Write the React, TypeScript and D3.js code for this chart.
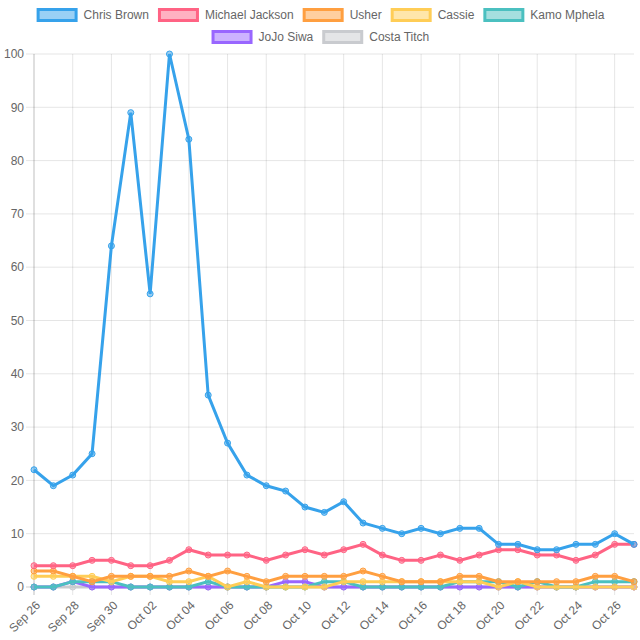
import React from "react";
import * as d3 from "d3";

const dates = ["Sep 26","Sep 27","Sep 28","Sep 29","Sep 30","Oct 01","Oct 02","Oct 03","Oct 04","Oct 05","Oct 06","Oct 07","Oct 08","Oct 09","Oct 10","Oct 11","Oct 12","Oct 13","Oct 14","Oct 15","Oct 16","Oct 17","Oct 18","Oct 19","Oct 20","Oct 21","Oct 22","Oct 23","Oct 24","Oct 25","Oct 26","Oct 27"];

const chrisBrown = [22,19,21,25,64,89,55,100,84,36,27,21,19,18,15,14,16,12,11,10,11,10,11,11,8,8,7,7,8,8,10,8];
const michaelJackson = [4,4,4,5,5,4,4,5,7,6,6,6,5,6,7,6,7,8,6,5,5,6,5,6,7,7,6,6,5,6,8,8];
const usher = [3,3,2,1,2,2,2,2,3,2,3,2,1,2,2,2,2,3,2,1,1,1,2,2,1,1,1,1,1,2,2,1];
const cassie = [2,2,2,2,1,2,2,1,1,2,0,1,0,0,0,0,1,1,1,1,1,1,1,1,0,1,0,0,0,0,0,0];
const kamoMphela = [0,0,1,1,1,0,0,0,0,1,0,0,0,0,0,1,1,0,0,0,0,0,1,1,1,0,1,0,0,1,1,1];
const jojoSiwa = [0,0,1,0,0,0,0,0,0,0,0,0,0,1,1,0,0,0,0,0,0,0,0,0,0,0,0,0,0,0,0,0];
const costaTitch = [0,0,0,0,0,0,0,0,0,0,0,0,0,0,0,0,0,0,0,0,0,0,0,0,0,0,0,0,0,0,0,0];

const yTicks = [0,10,20,30,40,50,60,70,80,90,100];

const series = [
  { name: "Chris Brown", values: chrisBrown, color: "rgb(54,162,235)" },
  { name: "Michael Jackson", values: michaelJackson, color: "rgb(255,99,132)" },
  { name: "Usher", values: usher, color: "rgb(255,159,64)" },
  { name: "Cassie", values: cassie, color: "rgb(255,205,86)" },
  { name: "Kamo Mphela", values: kamoMphela, color: "rgb(75,192,192)" },
  { name: "JoJo Siwa", values: jojoSiwa, color: "rgb(153,102,255)" },
  { name: "Costa Titch", values: costaTitch, color: "rgb(201,203,207)" },
];

const W = 640, H = 640;
const left = 34, right = 634, top = 54, bottom = 587;
const font = "'Liberation Sans', Arial, Helvetica, sans-serif";

const x = d3.scalePoint<string>().domain(dates).range([left, right]);
const y = d3.scaleLinear().domain([0, 100]).range([bottom, top]);

function fade(c: string, a: number) {
  const col = d3.color(c)!;
  col.opacity = a;
  return col.toString();
}

const measure = (s: string) => {
  if (typeof document === "undefined") return s.length * 6.5;
  const cv = (measure as any).cv || ((measure as any).cv = document.createElement("canvas"));
  const ctx = cv.getContext("2d");
  ctx.font = `12px ${font}`;
  return ctx.measureText(s).width;
};

export default function App() {
  const line = d3.line<number>().x((_, i) => x(dates[i])!).y((v) => y(v));
  const rows = [series.slice(0, 5), series.slice(5)];
  const rowY = [15, 37];
  const labeled = dates.filter((_, i) => i % 2 === 0);

  return (
    <svg width={W} height={H} style={{ position: "absolute", left: 0, top: 0 }}>
      <rect width={W} height={H} fill="#fff" />
      {rows.map((row, ri) => {
        const widths = row.map((s) => 46 + measure(s.name));
        const total = widths.reduce((a, b) => a + b, 0) + 10 * (row.length - 1);
        let cx = (W - total) / 2;
        return row.map((s, i) => {
          const gx = cx;
          cx += widths[i] + 10;
          return (
            <g key={s.name}>
              <rect x={gx + 1.5} y={rowY[ri] - 5.5} width={38} height={11} fill={fade(s.color, 0.5)} stroke={s.color} strokeWidth={3} />
              <text x={gx + 47} y={rowY[ri]} dy="0.35em" fontSize={12} fill="#666" fontFamily={font}>{s.name}</text>
            </g>
          );
        });
      })}
      {yTicks.map((t) => (
        <g key={t}>
          <line x1={left - 8} x2={right} y1={y(t)} y2={y(t)} stroke={t === 0 ? "rgba(0,0,0,0.2)" : "rgba(0,0,0,0.1)"} />
          <text x={left - 10} y={y(t)} dy="0.35em" textAnchor="end" fontSize={12} fill="#666" fontFamily={font}>{t}</text>
        </g>
      ))}
      {labeled.map((d, i) => (
        <g key={d}>
          <line x1={x(d)} x2={x(d)} y1={top} y2={bottom + 8} stroke={i === 0 ? "rgba(0,0,0,0.25)" : "rgba(0,0,0,0.1)"} />
          <text transform={`translate(${x(d)! + 4},${bottom + 16}) rotate(-45)`} textAnchor="end" dy="0.35em" fontSize={12} fill="#666" fontFamily={font}>{d}</text>
        </g>
      ))}
      {[...series].reverse().map((s) => (
        <g key={s.name}>
          <path d={line(s.values)!} fill="none" stroke={s.color} strokeWidth={3} strokeLinejoin="miter" />
          {s.values.map((v, i) => (
            <circle key={i} cx={x(dates[i])} cy={y(v)} r={3} fill={fade(s.color, 0.5)} stroke={s.color} strokeWidth={1} />
          ))}
        </g>
      ))}
    </svg>
  );
}
